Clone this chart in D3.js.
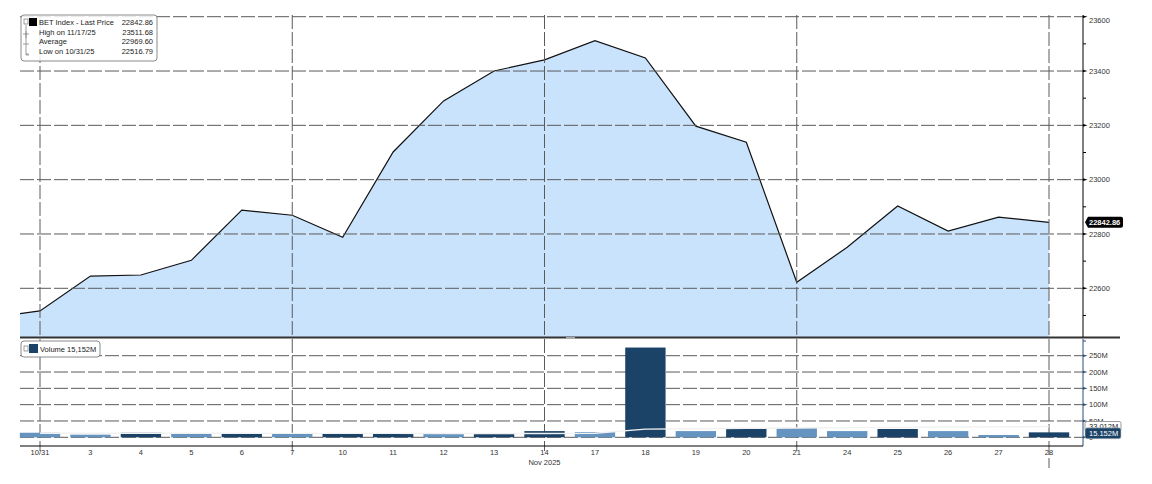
<!DOCTYPE html>
<html>
<head>
<meta charset="utf-8">
<script src="https://cdn.jsdelivr.net/npm/d3@7"></script>
<style>
    body { margin: 0; background: #fff; }
    svg { display: block; font-family: "Liberation Sans", Arial, sans-serif; }
    .grid line { stroke: #5a5a5a; stroke-width: 1; stroke-dasharray: 14,3; }
    .lbl { font-size: 7.5px; fill: #333; }
</style>
</head>
<body>
<div id="chart"></div>
<script>
// price panel data
let dates = ["10/31", "3", "4", "5", "6", "7", "10", "11", "12", "13", "14", "17", "18", "19", "20", "21", "24", "25", "26", "27", "28"];
let prices = [22516.79, 22645, 22649, 22703, 22888, 22869, 22788, 23102, 23290, 23400, 23441, 23511.68, 23448, 23197, 23138, 22622, 22751, 22903, 22811, 22862, 22842.86];
let prevPrice = 22492; // 10/30, mostly clipped at the left edge
let priceTicks = [22600, 22800, 23000, 23200, 23400, 23600];
let priceMinor = [22500, 22700, 22900, 23100, 23300, 23500];

// volume panel data (millions)
let volumes = [14, 8, 14, 11, 11, 11, 12, 12, 11, 10, 19, 16, 275, 19, 28.5, 28.5, 19, 25.5, 19, 7, 15.152];
let volumeDir = ["dn", "dn", "up", "dn", "up", "dn", "up", "up", "dn", "up", "up", "dn", "up", "dn", "up", "dn", "dn", "up", "dn", "dn", "up"];
let volumeAvg = [12.5, 12.4, 12.4, 12.3, 12.2, 12, 12, 12, 11.8, 11.6, 11.5, 12.5, 25, 26, 27.5, 28.5, 29.5, 30.5, 31.5, 32, 33.012];
let volumeTicks = [0, 50, 100, 150, 200, 250];
let weekDates = ["10/31", "7", "14", "21", "28"];

let legendRows = [
    {label: "BET Index - Last Price", value: "22842.86"},
    {label: "High on 11/17/25", value: "23511.68"},
    {label: "Average", value: "22969.60"},
    {label: "Low on 10/31/25", value: "22516.79"}
];

let width = 1152, height = 484,
    left = 20, right = 1083,
    priceBottom = 337, volTop = 339, volAxisY = 446;

let svg = d3.select("#chart").append("svg")
    .attr("width", width)
    .attr("height", height);

let x = d3.scalePoint()
    .domain(dates)
    .range([40, 1049]);

let yPrice = d3.scaleLinear()
    .domain([22600, 23600])
    .range([288.3, 16.7]);

let yVol = d3.scaleLinear()
    .domain([0, 250])
    .range([437.3, 355.7]);

let colorVol = d3.scaleOrdinal()
    .domain(["up", "dn"])
    .range(["#1b4368", "#6594c0"]);

svg.append("clipPath").attr("id", "clipPrice")
    .append("rect")
    .attr("x", left).attr("y", 0)
    .attr("width", right - left).attr("height", priceBottom);

// ---- price area + line
let pts = [{x: x(dates[0]) - x.step(), v: prevPrice}].concat(dates.map(function(d, i) {
    return {x: x(d), v: prices[i]};
}));

let area = d3.area()
    .x(function(d) { return d.x; })
    .y0(priceBottom)
    .y1(function(d) { return yPrice(d.v); });

let line = d3.line()
    .x(function(d) { return d.x; })
    .y(function(d) { return yPrice(d.v); });

let pg = svg.append("g").attr("clip-path", "url(#clipPrice)");

pg.append("path")
    .datum(pts)
    .attr("d", area)
    .attr("fill", "#cae3fc");

// grid over the fill
let grid = svg.append("g").attr("class", "grid");

grid.selectAll(".hp")
    .data(priceTicks)
    .enter().append("line")
    .attr("x1", left).attr("x2", right)
    .attr("y1", function(d) { return yPrice(d); })
    .attr("y2", function(d) { return yPrice(d); });

grid.selectAll(".vp")
    .data(weekDates)
    .enter().append("line")
    .attr("x1", function(d) { return x(d); })
    .attr("x2", function(d) { return x(d); })
    .attr("y1", 15).attr("y2", priceBottom);

grid.selectAll(".hv")
    .data(volumeTicks)
    .enter().append("line")
    .attr("x1", left).attr("x2", right)
    .attr("y1", function(d) { return yVol(d); })
    .attr("y2", function(d) { return yVol(d); });

grid.selectAll(".vv")
    .data(weekDates)
    .enter().append("line")
    .attr("x1", function(d) { return x(d); })
    .attr("x2", function(d) { return x(d); })
    .attr("y1", volTop)
    .attr("y2", function(d) { return d === "28" ? 468 : 451; });

pg.append("path")
    .datum(pts)
    .attr("d", line)
    .attr("fill", "none")
    .attr("stroke", "#111")
    .attr("stroke-width", 1.2);

// ---- volume bars
let barW = x.step() * 0.8;

svg.append("g").selectAll("rect")
    .data(dates)
    .enter().append("rect")
    .attr("x", function(d) { return x(d) - barW / 2; })
    .attr("y", function(d, i) { return yVol(volumes[i]); })
    .attr("width", barW)
    .attr("height", function(d, i) { return yVol(0) - yVol(volumes[i]); })
    .attr("fill", function(d, i) { return colorVol(volumeDir[i]); });

svg.append("path")
    .datum(volumeAvg)
    .attr("d", d3.line()
        .x(function(d, i) { return x(dates[i]); })
        .y(function(d) { return yVol(d); }))
    .attr("fill", "none")
    .attr("stroke", "#f1f1f1")
    .attr("stroke-width", 1.4);

// ---- separator between panels
svg.append("line")
    .attr("x1", left).attr("x2", 1120)
    .attr("y1", priceBottom + 0.5).attr("y2", priceBottom + 0.5)
    .attr("stroke", "#333").attr("stroke-width", 2);

svg.append("rect")
    .attr("x", 566).attr("y", priceBottom).attr("width", 9).attr("height", 2)
    .attr("fill", "#aaa");

// ---- right price axis
svg.append("line")
    .attr("x1", right).attr("x2", right)
    .attr("y1", 15).attr("y2", priceBottom)
    .attr("stroke", "#000");

let pAxis = svg.append("g").attr("transform", "translate(" + right + ",0)");

pAxis.selectAll(".minor")
    .data(priceMinor)
    .enter().append("line")
    .attr("x1", 0).attr("x2", 3)
    .attr("y1", function(d) { return yPrice(d); })
    .attr("y2", function(d) { return yPrice(d); })
    .attr("stroke", "#000");

let pt = pAxis.selectAll(".major")
    .data(priceTicks)
    .enter().append("g")
    .attr("transform", function(d) { return "translate(0," + yPrice(d) + ")"; });

pt.append("path")
    .attr("d", "M0,-1.3L4.5,0L0,1.3Z")
    .attr("fill", "#000");

pt.append("text")
    .attr("class", "lbl")
    .attr("x", 6)
    .attr("y", function(d) { return d === 23600 ? 4 : 0; })
    .attr("dy", "0.35em")
    .text(function(d) { return d; });

// last price tag
let lastY = yPrice(prices[prices.length - 1]);
let tag = svg.append("g").attr("transform", "translate(" + (right + 2) + "," + lastY + ")");
tag.append("path")
    .attr("d", "M0,0L3,-5.5H36Q38,-5.5 38,-3.5V3.5Q38,5.5 36,5.5H3Z")
    .attr("fill", "#000");
tag.append("text")
    .attr("x", 4).attr("dy", "0.35em")
    .attr("font-size", "7.5px").attr("font-weight", "bold")
    .attr("fill", "#fff")
    .text("22842.86");

// ---- right volume axis
svg.append("line")
    .attr("x1", right).attr("x2", right)
    .attr("y1", volTop).attr("y2", volAxisY)
    .attr("stroke", "#2a4f78");

let vt = svg.append("g").attr("transform", "translate(" + right + ",0)")
    .selectAll("g")
    .data(volumeTicks)
    .enter().append("g")
    .attr("transform", function(d) { return "translate(0," + yVol(d) + ")"; });

vt.append("path")
    .attr("d", "M0,-1.3L4.5,0L0,1.3Z")
    .attr("fill", "#2a4f78");

vt.append("text")
    .attr("class", "lbl")
    .attr("x", 6).attr("dy", "0.35em")
    .text(function(d) { return d === 0 ? "0" : d + "M"; });

svg.append("line")
    .attr("x1", right).attr("x2", right + 3)
    .attr("y1", volTop + 2).attr("y2", volTop + 2)
    .attr("stroke", "#2a4f78");

// average tag then last volume tag
let avgTag = svg.append("g").attr("transform", "translate(" + (right + 2) + "," + yVol(volumeAvg[volumeAvg.length - 1]) + ")");
avgTag.append("rect")
    .attr("x", 0).attr("y", -5).attr("width", 36).attr("height", 10).attr("rx", 2)
    .attr("fill", "#fff").attr("stroke", "#999");
avgTag.append("text")
    .attr("x", 4).attr("dy", "0.35em")
    .attr("font-size", "7.5px").attr("fill", "#222")
    .text("33.012M");

let volTag = svg.append("g").attr("transform", "translate(" + (right + 2) + "," + (yVol(volumes[volumes.length - 1]) + 1) + ")");
volTag.append("rect")
    .attr("x", 0).attr("y", -5.5).attr("width", 36).attr("height", 11).attr("rx", 2)
    .attr("fill", "#1b4368").attr("stroke", "#ccc").attr("stroke-width", 0.6);
volTag.append("text")
    .attr("x", 4).attr("dy", "0.35em")
    .attr("font-size", "7.5px").attr("fill", "#fff")
    .text("15.152M");

// ---- bottom x axis
svg.append("line")
    .attr("x1", left).attr("x2", right)
    .attr("y1", volAxisY).attr("y2", volAxisY)
    .attr("stroke", "#000");

svg.append("g").selectAll("text")
    .data(dates)
    .enter().append("text")
    .attr("class", "lbl")
    .attr("x", function(d) { return x(d); })
    .attr("y", 455)
    .attr("text-anchor", "middle")
    .text(function(d) { return d; });

svg.append("text")
    .attr("class", "lbl")
    .attr("x", x("14"))
    .attr("y", 465)
    .attr("text-anchor", "middle")
    .text("Nov 2025");

// ---- price legend
let leg = svg.append("g").attr("transform", "translate(21,15)");

leg.append("rect")
    .attr("width", 136).attr("height", 46).attr("rx", 3)
    .attr("fill", "#fff").attr("fill-opacity", 0.85)
    .attr("stroke", "#8a8a8a");

leg.append("rect")
    .attr("x", 3).attr("y", 4).attr("width", 4).attr("height", 5)
    .attr("fill", "none").attr("stroke", "#777").attr("stroke-width", 0.7);
leg.append("rect")
    .attr("x", 8).attr("y", 3).attr("width", 8).attr("height", 8)
    .attr("fill", "#000");

// tree connectors
leg.append("path")
    .attr("d", "M5,10V40H8M2,19H8M5,16V23M2,29H8M5,39H8")
    .attr("fill", "none").attr("stroke", "#777").attr("stroke-width", 0.7);

let rows = leg.selectAll(".row")
    .data(legendRows)
    .enter().append("g")
    .attr("transform", function(d, i) { return "translate(0," + (10 + i * 9.6) + ")"; });

rows.append("text")
    .attr("x", 18)
    .attr("font-size", "7.5px").attr("fill", "#222")
    .text(function(d) { return d.label; });

rows.append("text")
    .attr("x", 132)
    .attr("text-anchor", "end")
    .attr("font-size", "7.5px").attr("fill", "#222")
    .text(function(d) { return d.value; });

// ---- volume legend
let vleg = svg.append("g").attr("transform", "translate(21,341)");

vleg.append("rect")
    .attr("width", 79).attr("height", 16).attr("rx", 3)
    .attr("fill", "#fff").attr("stroke", "#8a8a8a");
vleg.append("rect")
    .attr("x", 3).attr("y", 5).attr("width", 4).attr("height", 5)
    .attr("fill", "none").attr("stroke", "#777").attr("stroke-width", 0.7);
vleg.append("rect")
    .attr("x", 8).attr("y", 3).attr("width", 9).attr("height", 9)
    .attr("fill", "#1b4368");
vleg.append("text")
    .attr("x", 19).attr("y", 11)
    .attr("font-size", "7.5px").attr("fill", "#222")
    .text("Volume 15,152M");
</script>
</body>
</html>
